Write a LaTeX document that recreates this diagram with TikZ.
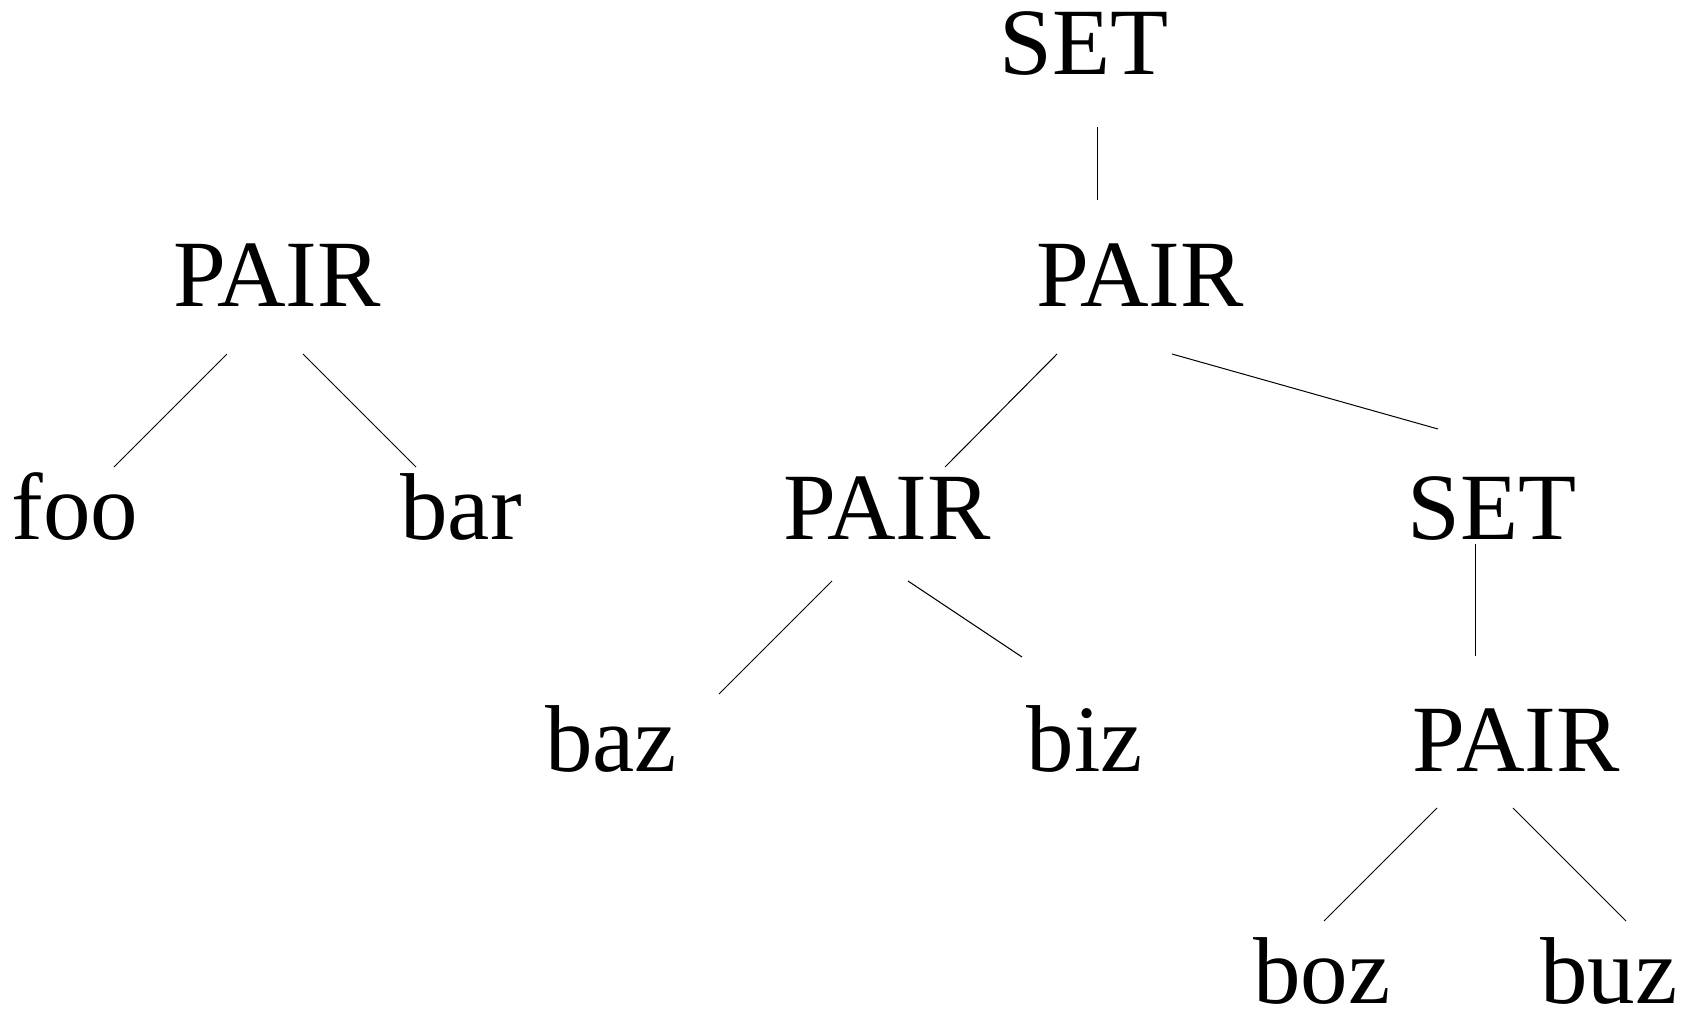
\documentclass[tikz,border=0pt]{standalone}
\usepackage{fontspec}
\setmainfont{Liberation Serif}
\begin{document}
\begin{tikzpicture}[x=0.5pt,y=-0.5pt,
  lbl/.style={anchor=base,inner sep=0pt,font=\fontsize{47.5}{57}\selectfont},
  edge/.style={draw=black,line width=0.5pt}]
\useasboundingbox (0,0) rectangle (1695,1017);
% tree nodes, placed on their baselines
\node[lbl] (set0)  at (1084,74)   {SET};
\node[lbl] (pairL) at (277,306)   {PAIR};
\node[lbl] (pair1) at (1140,306)  {PAIR};
\node[lbl] (foo)   at (75,539)    {foo};
\node[lbl] (bar)   at (461,539)   {bar};
\node[lbl] (pair2) at (887,539)   {PAIR};
\node[lbl] (set2)  at (1492,539)  {SET};
\node[lbl] (baz)   at (611,771)   {baz};
\node[lbl] (biz)   at (1085,771)  {biz};
\node[lbl] (pair3) at (1516,771)  {PAIR};
\node[lbl] (boz)   at (1322,1003) {boz};
\node[lbl] (buz)   at (1609,1003) {buz};
% connectors
\draw[edge] ([shift={(13,53)}]set0.base)    -- ([shift={(-43,-106)}]pair1.base);
\draw[edge] ([shift={(-50,48)}]pairL.base)  -- ([shift={(39,-72)}]foo.base);
\draw[edge] ([shift={(26,48)}]pairL.base)   -- ([shift={(-45,-72)}]bar.base);
\draw[edge] ([shift={(-83,48)}]pair1.base)  -- ([shift={(58,-72)}]pair2.base);
\draw[edge] ([shift={(32,48)}]pair1.base)   -- ([shift={(-54,-110)}]set2.base);
\draw[edge] ([shift={(-55,42)}]pair2.base)  -- ([shift={(108,-77)}]baz.base);
\draw[edge] ([shift={(21,42)}]pair2.base)   -- ([shift={(-63,-114)}]biz.base);
\draw[edge] ([shift={(-17,5)}]set2.base)    -- ([shift={(-41,-115)}]pair3.base);
\draw[edge] ([shift={(-79,37)}]pair3.base)  -- ([shift={(2,-82)}]boz.base);
\draw[edge] ([shift={(-3,37)}]pair3.base)   -- ([shift={(17,-82)}]buz.base);
\end{tikzpicture}
\end{document}
